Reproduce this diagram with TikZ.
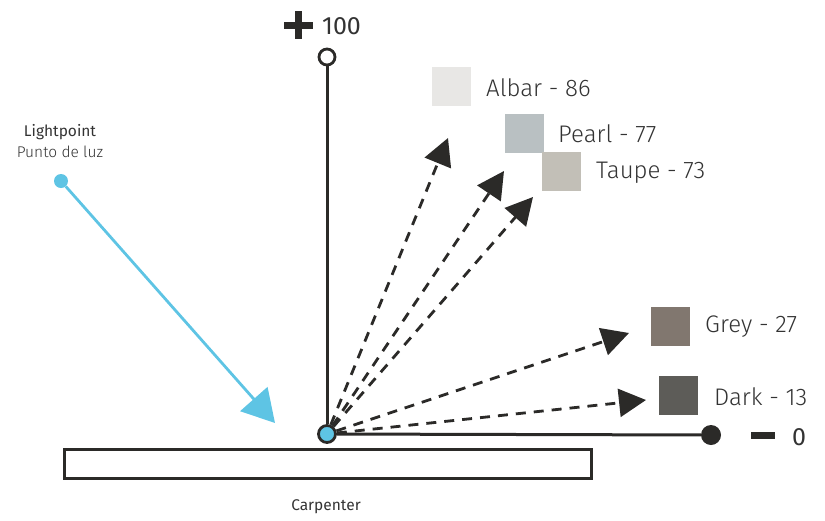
\documentclass[tikz,border=0pt]{standalone}
\usepackage{fontspec}
\setmainfont{Fira Sans}[UprightFont={* Light},BoldFont={* Medium}]
\newfontfamily\regfont{Fira Sans}
\usetikzlibrary{arrows.meta}
\definecolor{ink}{HTML}{2B2A28}
\definecolor{txt}{HTML}{333333}
\definecolor{cyanlt}{HTML}{5EC4E4}
\definecolor{albar}{HTML}{E8E7E5}
\definecolor{pearl}{HTML}{B9C0C2}
\definecolor{taupe}{HTML}{C2BFB7}
\definecolor{greyc}{HTML}{81776F}
\definecolor{darkc}{HTML}{5D5C58}
\tikzset{
  axis/.style={draw=ink,line width=3pt},
  ray/.style={draw=ink,line width=2.8pt,dash pattern=on 10pt off 8pt,-{Triangle[length=27pt,width=28pt]}},
  swatch/.style={minimum width=39pt,minimum height=39pt,inner sep=0pt,anchor=north west},
  lbl/.style={text=txt,font=\fontsize{24}{28}\selectfont,anchor=west,inner sep=0pt},
  small/.style={text=txt,font=\fontsize{15.5}{18}\selectfont,inner sep=0pt},
  smallb/.style={text=txt,font=\regfont\fontsize{15.5}{18}\selectfont,inner sep=0pt}
}
\begin{document}
\begin{tikzpicture}[x=1pt,y=-1pt]
\useasboundingbox (0,0) rectangle (825,520);
% axes
\node[circle,draw=ink,fill=white,line width=2.8pt,minimum size=16pt,inner sep=0pt] (top) at (327,57) {};
\node[circle,fill=ink,minimum size=20pt,inner sep=0pt] (right) at (711,435) {};
\node[circle,draw=ink,fill=cyanlt,line width=2.8pt,minimum size=17pt,inner sep=0pt] (o) at (327,434) {};
\draw[axis] (o) -- (top);
\draw[axis] (o) -- (right);
% plus / minus
\fill[ink] (284,21.5) rectangle (313,28.5);
\fill[ink] (294.5,11) rectangle (301.5,39);
\node[text=txt,font=\regfont\fontsize{25}{28}\selectfont,anchor=west,inner sep=0pt] (hundred) at (322,26) {100};
\fill[ink] (751,432) rectangle (775,439);
\node[text=txt,font=\regfont\fontsize{25}{28}\selectfont,anchor=west,inner sep=0pt] (zero) at (792,437) {0};
% carpenter block
\node[draw=ink,line width=2.8pt,minimum width=527pt,minimum height=29pt,inner sep=0pt,anchor=north west] (plank) at (63,448) {};
\node[smallb] (carp) at (326,507) {Carpenter};
% light point
\node[smallb] (lp) at (60,132) {Lightpoint};
\node[small] (pl) at (60,152) {Punto de luz};
\node[circle,fill=cyanlt,minimum size=14pt,inner sep=0pt] (light) at (61,181) {};
\coordinate (lt) at (275,423);
\draw[draw=cyanlt,line width=2.8pt,-{Triangle[length=32pt,width=36pt]}] (light) -- (lt);
% swatches
\node[swatch,fill=albar] (sa) at (432,67) {};
\node[swatch,fill=pearl] (sp) at (505,114) {};
\node[swatch,fill=taupe] (st) at (542,152) {};
\node[swatch,fill=greyc] (sg) at (651,307) {};
\node[swatch,fill=darkc] (sd) at (659,376) {};
\node[lbl] (la) at (486,88) {Albar - 86};
\node[lbl] (lpe) at (558,134) {Pearl - 77};
\node[lbl] (lta) at (596,173) {Taupe - 73};
\node[lbl] (lg) at (705,327) {Grey - 27};
\node[lbl] (ld) at (714,397) {Dark - 13};
% rays
\coordinate (t1) at (448,138);
\coordinate (t2) at (504,171);
\coordinate (t3) at (533,197);
\coordinate (t4) at (629,333);
\coordinate (t5) at (646,400);
\foreach \t in {t1,t2,t3,t4,t5} \draw[ray] (o) -- (\t);
\end{tikzpicture}
\end{document}
